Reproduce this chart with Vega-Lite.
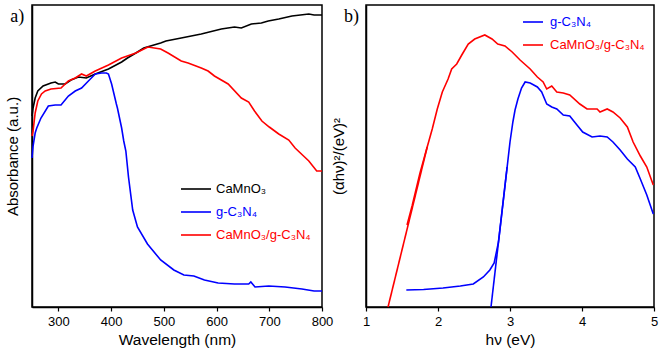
{
  "$schema": "https://vega.github.io/schema/vega-lite/v6.json",
  "padding": {"left": 4, "top": 4, "right": 4, "bottom": 4},
  "spacing": -4,
  "config": {
    "font": "Liberation Sans",
    "view": {"stroke": "black", "strokeWidth": 1.5},
    "axis": {"grid": false, "domainColor": "black", "domainWidth": 1.5, "tickColor": "black", "tickWidth": 1.2, "labelColor": "black", "titleColor": "black", "titleFontWeight": "normal", "labelFont": "Liberation Sans", "titleFont": "Liberation Sans"}
  },
  "datasets": {
    "a": [
      {"s": "CaMnO₃", "x": 250, "y": 191}, {"s": "CaMnO₃", "x": 252, "y": 199}, {"s": "CaMnO₃", "x": 256, "y": 209}, {"s": "CaMnO₃", "x": 261, "y": 216}, {"s": "CaMnO₃", "x": 271, "y": 221}, {"s": "CaMnO₃", "x": 286, "y": 224}, {"s": "CaMnO₃", "x": 294, "y": 225}, {"s": "CaMnO₃", "x": 300, "y": 223}, {"s": "CaMnO₃", "x": 313, "y": 223}, {"s": "CaMnO₃", "x": 324, "y": 227}, {"s": "CaMnO₃", "x": 338, "y": 230}, {"s": "CaMnO₃", "x": 353, "y": 229}, {"s": "CaMnO₃", "x": 370, "y": 233}, {"s": "CaMnO₃", "x": 395, "y": 238}, {"s": "CaMnO₃", "x": 420, "y": 245}, {"s": "CaMnO₃", "x": 431, "y": 249}, {"s": "CaMnO₃", "x": 447, "y": 254}, {"s": "CaMnO₃", "x": 462, "y": 259}, {"s": "CaMnO₃", "x": 494, "y": 264}, {"s": "CaMnO₃", "x": 504, "y": 266}, {"s": "CaMnO₃", "x": 533, "y": 269}, {"s": "CaMnO₃", "x": 571, "y": 273}, {"s": "CaMnO₃", "x": 609, "y": 278}, {"s": "CaMnO₃", "x": 634, "y": 280}, {"s": "CaMnO₃", "x": 647, "y": 279}, {"s": "CaMnO₃", "x": 666, "y": 283}, {"s": "CaMnO₃", "x": 685, "y": 284}, {"s": "CaMnO₃", "x": 698, "y": 286}, {"s": "CaMnO₃", "x": 718, "y": 288}, {"s": "CaMnO₃", "x": 743, "y": 291}, {"s": "CaMnO₃", "x": 775, "y": 293}, {"s": "CaMnO₃", "x": 785, "y": 292}, {"s": "CaMnO₃", "x": 800, "y": 292},
      {"s": "g-C₃N₄", "x": 250, "y": 149}, {"s": "g-C₃N₄", "x": 252, "y": 161}, {"s": "g-C₃N₄", "x": 256, "y": 174}, {"s": "g-C₃N₄", "x": 259, "y": 179}, {"s": "g-C₃N₄", "x": 267, "y": 189}, {"s": "g-C₃N₄", "x": 281, "y": 201}, {"s": "g-C₃N₄", "x": 294, "y": 202}, {"s": "g-C₃N₄", "x": 305, "y": 202}, {"s": "g-C₃N₄", "x": 319, "y": 211}, {"s": "g-C₃N₄", "x": 332, "y": 216}, {"s": "g-C₃N₄", "x": 344, "y": 219}, {"s": "g-C₃N₄", "x": 357, "y": 226}, {"s": "g-C₃N₄", "x": 370, "y": 233}, {"s": "g-C₃N₄", "x": 382, "y": 234}, {"s": "g-C₃N₄", "x": 391, "y": 234}, {"s": "g-C₃N₄", "x": 395, "y": 233}, {"s": "g-C₃N₄", "x": 401, "y": 223}, {"s": "g-C₃N₄", "x": 410, "y": 203}, {"s": "g-C₃N₄", "x": 412, "y": 199}, {"s": "g-C₃N₄", "x": 420, "y": 179}, {"s": "g-C₃N₄", "x": 424, "y": 166}, {"s": "g-C₃N₄", "x": 428, "y": 156}, {"s": "g-C₃N₄", "x": 433, "y": 130}, {"s": "g-C₃N₄", "x": 441, "y": 97}, {"s": "g-C₃N₄", "x": 450, "y": 80}, {"s": "g-C₃N₄", "x": 469, "y": 63}, {"s": "g-C₃N₄", "x": 494, "y": 47}, {"s": "g-C₃N₄", "x": 519, "y": 37}, {"s": "g-C₃N₄", "x": 538, "y": 32}, {"s": "g-C₃N₄", "x": 557, "y": 31}, {"s": "g-C₃N₄", "x": 577, "y": 27}, {"s": "g-C₃N₄", "x": 603, "y": 24}, {"s": "g-C₃N₄", "x": 634, "y": 23}, {"s": "g-C₃N₄", "x": 661, "y": 23}, {"s": "g-C₃N₄", "x": 665, "y": 25}, {"s": "g-C₃N₄", "x": 673, "y": 20}, {"s": "g-C₃N₄", "x": 699, "y": 21}, {"s": "g-C₃N₄", "x": 730, "y": 20}, {"s": "g-C₃N₄", "x": 762, "y": 18}, {"s": "g-C₃N₄", "x": 785, "y": 16}, {"s": "g-C₃N₄", "x": 800, "y": 16},
      {"s": "CaMnO₃/g-C₃N₄", "x": 250, "y": 171}, {"s": "CaMnO₃/g-C₃N₄", "x": 252, "y": 176}, {"s": "CaMnO₃/g-C₃N₄", "x": 256, "y": 194}, {"s": "CaMnO₃/g-C₃N₄", "x": 261, "y": 206}, {"s": "CaMnO₃/g-C₃N₄", "x": 268, "y": 213}, {"s": "CaMnO₃/g-C₃N₄", "x": 275, "y": 216}, {"s": "CaMnO₃/g-C₃N₄", "x": 286, "y": 218}, {"s": "CaMnO₃/g-C₃N₄", "x": 305, "y": 219}, {"s": "CaMnO₃/g-C₃N₄", "x": 319, "y": 226}, {"s": "CaMnO₃/g-C₃N₄", "x": 332, "y": 229}, {"s": "CaMnO₃/g-C₃N₄", "x": 344, "y": 233}, {"s": "CaMnO₃/g-C₃N₄", "x": 353, "y": 231}, {"s": "CaMnO₃/g-C₃N₄", "x": 370, "y": 236}, {"s": "CaMnO₃/g-C₃N₄", "x": 395, "y": 242}, {"s": "CaMnO₃/g-C₃N₄", "x": 420, "y": 249}, {"s": "CaMnO₃/g-C₃N₄", "x": 447, "y": 254}, {"s": "CaMnO₃/g-C₃N₄", "x": 466, "y": 259}, {"s": "CaMnO₃/g-C₃N₄", "x": 470, "y": 260}, {"s": "CaMnO₃/g-C₃N₄", "x": 494, "y": 258}, {"s": "CaMnO₃/g-C₃N₄", "x": 508, "y": 254}, {"s": "CaMnO₃/g-C₃N₄", "x": 533, "y": 246}, {"s": "CaMnO₃/g-C₃N₄", "x": 546, "y": 244}, {"s": "CaMnO₃/g-C₃N₄", "x": 571, "y": 239}, {"s": "CaMnO₃/g-C₃N₄", "x": 584, "y": 236}, {"s": "CaMnO₃/g-C₃N₄", "x": 596, "y": 231}, {"s": "CaMnO₃/g-C₃N₄", "x": 622, "y": 223}, {"s": "CaMnO₃/g-C₃N₄", "x": 647, "y": 209}, {"s": "CaMnO₃/g-C₃N₄", "x": 661, "y": 205}, {"s": "CaMnO₃/g-C₃N₄", "x": 672, "y": 196}, {"s": "CaMnO₃/g-C₃N₄", "x": 686, "y": 186}, {"s": "CaMnO₃/g-C₃N₄", "x": 700, "y": 180}, {"s": "CaMnO₃/g-C₃N₄", "x": 718, "y": 173}, {"s": "CaMnO₃/g-C₃N₄", "x": 737, "y": 167}, {"s": "CaMnO₃/g-C₃N₄", "x": 749, "y": 159}, {"s": "CaMnO₃/g-C₃N₄", "x": 775, "y": 146}, {"s": "CaMnO₃/g-C₃N₄", "x": 790, "y": 136}, {"s": "CaMnO₃/g-C₃N₄", "x": 796, "y": 136}, {"s": "CaMnO₃/g-C₃N₄", "x": 800, "y": 136}
    ],
    "b": [
      {"s": "g-C₃N₄", "g": "curve", "x": 1.56, "y": 17}, {"s": "g-C₃N₄", "g": "curve", "x": 1.8, "y": 17.5}, {"s": "g-C₃N₄", "g": "curve", "x": 2.07, "y": 19}, {"s": "g-C₃N₄", "g": "curve", "x": 2.31, "y": 21}, {"s": "g-C₃N₄", "g": "curve", "x": 2.49, "y": 23}, {"s": "g-C₃N₄", "g": "curve", "x": 2.63, "y": 30}, {"s": "g-C₃N₄", "g": "curve", "x": 2.72, "y": 37}, {"s": "g-C₃N₄", "g": "curve", "x": 2.78, "y": 44}, {"s": "g-C₃N₄", "g": "curve", "x": 2.84, "y": 65}, {"s": "g-C₃N₄", "g": "curve", "x": 2.89, "y": 96}, {"s": "g-C₃N₄", "g": "curve", "x": 2.93, "y": 121}, {"s": "g-C₃N₄", "g": "curve", "x": 2.97, "y": 146}, {"s": "g-C₃N₄", "g": "curve", "x": 3.0, "y": 165}, {"s": "g-C₃N₄", "g": "curve", "x": 3.04, "y": 185}, {"s": "g-C₃N₄", "g": "curve", "x": 3.07, "y": 197}, {"s": "g-C₃N₄", "g": "curve", "x": 3.11, "y": 208}, {"s": "g-C₃N₄", "g": "curve", "x": 3.16, "y": 219}, {"s": "g-C₃N₄", "g": "curve", "x": 3.21, "y": 225}, {"s": "g-C₃N₄", "g": "curve", "x": 3.28, "y": 224}, {"s": "g-C₃N₄", "g": "curve", "x": 3.38, "y": 220}, {"s": "g-C₃N₄", "g": "curve", "x": 3.44, "y": 215}, {"s": "g-C₃N₄", "g": "curve", "x": 3.51, "y": 203}, {"s": "g-C₃N₄", "g": "curve", "x": 3.58, "y": 200}, {"s": "g-C₃N₄", "g": "curve", "x": 3.65, "y": 198}, {"s": "g-C₃N₄", "g": "curve", "x": 3.74, "y": 192}, {"s": "g-C₃N₄", "g": "curve", "x": 3.83, "y": 191}, {"s": "g-C₃N₄", "g": "curve", "x": 3.93, "y": 182}, {"s": "g-C₃N₄", "g": "curve", "x": 4.01, "y": 175}, {"s": "g-C₃N₄", "g": "curve", "x": 4.14, "y": 170}, {"s": "g-C₃N₄", "g": "curve", "x": 4.25, "y": 171}, {"s": "g-C₃N₄", "g": "curve", "x": 4.35, "y": 170}, {"s": "g-C₃N₄", "g": "curve", "x": 4.43, "y": 165}, {"s": "g-C₃N₄", "g": "curve", "x": 4.53, "y": 157}, {"s": "g-C₃N₄", "g": "curve", "x": 4.63, "y": 148}, {"s": "g-C₃N₄", "g": "curve", "x": 4.74, "y": 140}, {"s": "g-C₃N₄", "g": "curve", "x": 4.81, "y": 128}, {"s": "g-C₃N₄", "g": "curve", "x": 4.9, "y": 112}, {"s": "g-C₃N₄", "g": "curve", "x": 4.99, "y": 93},
      {"s": "g-C₃N₄", "g": "fit", "x": 2.736, "y": 0}, {"s": "g-C₃N₄", "g": "fit", "x": 2.96, "y": 140},
      {"s": "CaMnO₃/g-C₃N₄", "g": "curve", "x": 1.57, "y": 82}, {"s": "CaMnO₃/g-C₃N₄", "g": "curve", "x": 1.64, "y": 101}, {"s": "CaMnO₃/g-C₃N₄", "g": "curve", "x": 1.71, "y": 122}, {"s": "CaMnO₃/g-C₃N₄", "g": "curve", "x": 1.75, "y": 134}, {"s": "CaMnO₃/g-C₃N₄", "g": "curve", "x": 1.85, "y": 160}, {"s": "CaMnO₃/g-C₃N₄", "g": "curve", "x": 1.92, "y": 178}, {"s": "CaMnO₃/g-C₃N₄", "g": "curve", "x": 1.99, "y": 198}, {"s": "CaMnO₃/g-C₃N₄", "g": "curve", "x": 2.06, "y": 215}, {"s": "CaMnO₃/g-C₃N₄", "g": "curve", "x": 2.14, "y": 228}, {"s": "CaMnO₃/g-C₃N₄", "g": "curve", "x": 2.19, "y": 238}, {"s": "CaMnO₃/g-C₃N₄", "g": "curve", "x": 2.26, "y": 243}, {"s": "CaMnO₃/g-C₃N₄", "g": "curve", "x": 2.33, "y": 252}, {"s": "CaMnO₃/g-C₃N₄", "g": "curve", "x": 2.42, "y": 263}, {"s": "CaMnO₃/g-C₃N₄", "g": "curve", "x": 2.51, "y": 268}, {"s": "CaMnO₃/g-C₃N₄", "g": "curve", "x": 2.65, "y": 272}, {"s": "CaMnO₃/g-C₃N₄", "g": "curve", "x": 2.75, "y": 268}, {"s": "CaMnO₃/g-C₃N₄", "g": "curve", "x": 2.83, "y": 263}, {"s": "CaMnO₃/g-C₃N₄", "g": "curve", "x": 2.93, "y": 261}, {"s": "CaMnO₃/g-C₃N₄", "g": "curve", "x": 3.03, "y": 255}, {"s": "CaMnO₃/g-C₃N₄", "g": "curve", "x": 3.14, "y": 247}, {"s": "CaMnO₃/g-C₃N₄", "g": "curve", "x": 3.28, "y": 238}, {"s": "CaMnO₃/g-C₃N₄", "g": "curve", "x": 3.38, "y": 230}, {"s": "CaMnO₃/g-C₃N₄", "g": "curve", "x": 3.46, "y": 225}, {"s": "CaMnO₃/g-C₃N₄", "g": "curve", "x": 3.51, "y": 218}, {"s": "CaMnO₃/g-C₃N₄", "g": "curve", "x": 3.58, "y": 221}, {"s": "CaMnO₃/g-C₃N₄", "g": "curve", "x": 3.65, "y": 215}, {"s": "CaMnO₃/g-C₃N₄", "g": "curve", "x": 3.74, "y": 214}, {"s": "CaMnO₃/g-C₃N₄", "g": "curve", "x": 3.83, "y": 212}, {"s": "CaMnO₃/g-C₃N₄", "g": "curve", "x": 3.97, "y": 203}, {"s": "CaMnO₃/g-C₃N₄", "g": "curve", "x": 4.07, "y": 198}, {"s": "CaMnO₃/g-C₃N₄", "g": "curve", "x": 4.21, "y": 198}, {"s": "CaMnO₃/g-C₃N₄", "g": "curve", "x": 4.25, "y": 195}, {"s": "CaMnO₃/g-C₃N₄", "g": "curve", "x": 4.35, "y": 198}, {"s": "CaMnO₃/g-C₃N₄", "g": "curve", "x": 4.43, "y": 195}, {"s": "CaMnO₃/g-C₃N₄", "g": "curve", "x": 4.53, "y": 189}, {"s": "CaMnO₃/g-C₃N₄", "g": "curve", "x": 4.63, "y": 180}, {"s": "CaMnO₃/g-C₃N₄", "g": "curve", "x": 4.71, "y": 165}, {"s": "CaMnO₃/g-C₃N₄", "g": "curve", "x": 4.81, "y": 151}, {"s": "CaMnO₃/g-C₃N₄", "g": "curve", "x": 4.9, "y": 140}, {"s": "CaMnO₃/g-C₃N₄", "g": "curve", "x": 4.99, "y": 122},
      {"s": "CaMnO₃/g-C₃N₄", "g": "fit", "x": 1.306, "y": 0}, {"s": "CaMnO₃/g-C₃N₄", "g": "fit", "x": 1.85, "y": 160}
    ]
  },
  "resolve": {"scale": {"color": "independent", "x": "independent", "y": "independent"}, "legend": {"color": "independent"}},
  "hconcat": [
    {
      "width": 290,
      "height": 302,
      "layer": [
        {
          "data": {"name": "a"},
          "mark": {"type": "line", "strokeWidth": 1.6},
          "encoding": {
            "x": {"field": "x", "type": "quantitative", "scale": {"domain": [250, 800], "nice": false}, "axis": {"title": "Wavelength (nm)", "values": [300, 350, 400, 450, 500, 550, 600, 650, 700, 750, 800], "labelExpr": "datum.value % 100 == 0 ? format(datum.value, 'd') : ''", "labelOverlap": false, "labelFlush": false, "tickSize": 4, "labelFontSize": 13, "labelPadding": 4, "titleFontSize": 15.5, "titlePadding": 4}},
            "y": {"field": "y", "type": "quantitative", "scale": {"domain": [0, 302], "nice": false, "zero": false}, "axis": {"title": "Absorbance (a.u.)", "labels": false, "ticks": false, "titleFontSize": 15, "titlePadding": 12}},
            "color": {"field": "s", "type": "nominal", "scale": {"domain": ["CaMnO₃", "g-C₃N₄", "CaMnO₃/g-C₃N₄"], "range": ["#000000", "#0000ff", "#ff0000"]},
              "legend": {"title": null, "orient": "none", "legendX": 148, "legendY": 168, "symbolType": "stroke", "symbolSize": 900, "symbolStrokeWidth": 1.6, "labelFontSize": 13, "labelFont": "Liberation Sans", "labelOffset": 4, "rowPadding": 0,
                "encode": {"labels": {"update": {"fill": {"signal": "datum.value == 'CaMnO₃' ? '#000000' : datum.value == 'g-C₃N₄' ? '#0000ff' : '#ff0000'"}}}}}}
          }
        },
        {
          "data": {"values": [{"t": "a)"}]},
          "mark": {"type": "text", "font": "Liberation Serif", "fontSize": 18, "align": "center", "baseline": "middle"},
          "encoding": {"x": {"datum": 222}, "y": {"datum": 290}, "text": {"field": "t"}}
        }
      ]
    },
    {
      "width": 288,
      "height": 302,
      "layer": [
        {
          "data": {"name": "b"},
          "mark": {"type": "line", "strokeWidth": 1.6},
          "encoding": {
            "x": {"field": "x", "type": "quantitative", "scale": {"domain": [1, 5], "nice": false}, "axis": {"title": "hν (eV)", "values": [1, 1.5, 2, 2.5, 3, 3.5, 4, 4.5, 5], "labelExpr": "datum.value % 1 == 0 ? format(datum.value, 'd') : ''", "labelOverlap": false, "labelFlush": false, "tickSize": 4, "labelFontSize": 13, "labelPadding": 4, "titleFontSize": 15.5, "titlePadding": 4}},
            "y": {"field": "y", "type": "quantitative", "scale": {"domain": [0, 302], "nice": false, "zero": false}, "axis": {"title": "(αhν)²/(eV)²", "labels": false, "ticks": false, "titleFontSize": 15, "titlePadding": 20}},
            "detail": {"field": "g"},
            "color": {"field": "s", "type": "nominal", "scale": {"domain": ["g-C₃N₄", "CaMnO₃/g-C₃N₄"], "range": ["#0000ff", "#ff0000"]},
              "legend": {"title": null, "orient": "none", "legendX": 156, "legendY": 6, "symbolType": "stroke", "symbolSize": 400, "symbolStrokeWidth": 1.6, "labelFontSize": 13, "labelFont": "Liberation Sans", "labelOffset": 6, "rowPadding": 5,
                "encode": {"labels": {"update": {"fill": {"signal": "datum.value == 'g-C₃N₄' ? '#0000ff' : '#ff0000'"}}}}}}
          }
        },
        {
          "data": {"values": [{"t": "b)"}]},
          "mark": {"type": "text", "font": "Liberation Serif", "fontSize": 18, "align": "center", "baseline": "middle"},
          "encoding": {"x": {"datum": 0.8}, "y": {"datum": 290}, "text": {"field": "t"}}
        }
      ]
    }
  ]
}
